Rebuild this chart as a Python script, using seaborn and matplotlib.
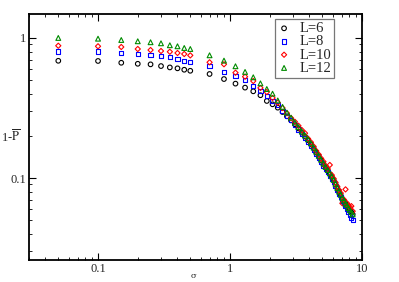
import matplotlib
matplotlib.use('Agg')
import matplotlib.pyplot as plt
import seaborn as sns

# sigma values (same grid for every L)
sigma = [0.05, 0.1, 0.15, 0.2, 0.25, 0.3, 0.35, 0.4, 0.45, 0.5,
         0.7, 0.9, 1.1, 1.3, 1.5, 1.7, 1.9, 2.1, 2.3, 2.5,
         2.7, 2.9, 3.1, 3.3, 3.5, 3.7, 3.9, 4.1, 4.3, 4.5,
         4.7, 4.9, 5.1, 5.3, 5.5, 5.7, 5.9, 6.1, 6.3, 6.5,
         6.7, 6.9, 7.1, 7.3, 7.5, 7.7, 7.9, 8.1, 8.3, 8.5]

p_L6 = [0.687, 0.685, 0.665, 0.654, 0.648, 0.630, 0.616, 0.607, 0.593, 0.583,
        0.553, 0.509, 0.472, 0.442, 0.416, 0.390, 0.355, 0.336, 0.318, 0.296,
        0.276, 0.258, 0.242, 0.226, 0.211, 0.198, 0.186, 0.174, 0.163, 0.152,
        0.143, 0.134, 0.126, 0.119, 0.113, 0.107, 0.102, 0.096, 0.090, 0.085,
        0.080, 0.075, 0.071, 0.068, 0.066, 0.063, 0.061, 0.059, 0.057, 0.055]

p_L8 = [0.800, 0.800, 0.780, 0.772, 0.751, 0.743, 0.727, 0.708, 0.689, 0.674,
        0.634, 0.572, 0.535, 0.499, 0.452, 0.420, 0.385, 0.355, 0.330, 0.300,
        0.279, 0.258, 0.238, 0.222, 0.205, 0.193, 0.181, 0.170, 0.158, 0.148,
        0.139, 0.131, 0.123, 0.116, 0.110, 0.104, 0.099, 0.094, 0.088, 0.082,
        0.077, 0.073, 0.069, 0.066, 0.063, 0.060, 0.057, 0.055, 0.052, 0.050]

p_L10 = [0.880, 0.872, 0.862, 0.834, 0.820, 0.807, 0.797, 0.781, 0.768, 0.751,
         0.670, 0.649, 0.565, 0.529, 0.493, 0.440, 0.411, 0.373, 0.345, 0.316,
         0.290, 0.268, 0.252, 0.236, 0.220, 0.209, 0.191, 0.180, 0.168, 0.156,
         0.147, 0.138, 0.131, 0.122, 0.116, 0.124, 0.105, 0.099, 0.093, 0.087,
         0.082, 0.078, 0.066, 0.070, 0.083, 0.066, 0.063, 0.062, 0.063, 0.058]

p_L12 = [1.000, 0.988, 0.967, 0.947, 0.932, 0.916, 0.887, 0.872, 0.848, 0.834,
         0.752, 0.689, 0.628, 0.572, 0.524, 0.474, 0.432, 0.400, 0.358, 0.322,
         0.293, 0.270, 0.249, 0.231, 0.215, 0.201, 0.189, 0.177, 0.165, 0.154,
         0.144, 0.135, 0.127, 0.120, 0.114, 0.108, 0.103, 0.097, 0.091, 0.085,
         0.080, 0.076, 0.072, 0.069, 0.066, 0.064, 0.061, 0.059, 0.057, 0.055]

labels = ['L=6', 'L=8', 'L=10', 'L=12']

sns.set_style('ticks')
plt.rcParams['font.family'] = ['Liberation Serif', 'DejaVu Serif']
plt.rcParams['mathtext.fontset'] = 'stix'

fig = plt.figure(figsize=(3.99, 2.82), dpi=100)
ax = fig.add_axes([0.0727, 0.078, 0.8346, 0.872])

series = [
    (p_L6, 'o', 'black', 11),
    (p_L8, 's', '#0000ff', 9),
    (p_L10, 'D', '#ff0000', 7),
    (p_L12, '^', '#008b00', 12),
]
for (vals, mk, col, size), lab in zip(series, labels):
    sns.scatterplot(x=sigma, y=vals, marker=mk, s=size, facecolor='none',
                    edgecolor=col, linewidth=0.8, label=lab, ax=ax)

ax.set_xscale('log')
ax.set_yscale('log')
ax.set_xlim(0.03, 10)
ax.set_ylim(0.026, 1.48)

ax.set_xticks([0.1, 1, 10])
ax.set_xticklabels(['0.1', '1', '10'])
ax.set_yticks([0.1, 1])
ax.set_yticklabels(['0.1', '1'])

ax.tick_params(which='both', direction='in', top=True, right=True,
               labelsize=9, pad=2, color='black')
ax.tick_params(which='major', length=5, width=0.8)
ax.tick_params(which='minor', length=2.5, width=0.6)
for sp in ax.spines.values():
    sp.set_linewidth(1.3)
    sp.set_color('black')

ax.set_xlabel('')
ax.set_ylabel('')
fig.text(0.028, 0.515, r'1-$\overline{\mathrm{P}}$', fontsize=9,
         ha='center', va='center')
fig.text(0.484, 0.022, 'σ', fontsize=6, ha='center', va='center',
         family=['DejaVu Serif'])

leg = ax.legend(loc='upper right', bbox_to_anchor=(0.916, 0.98),
                borderaxespad=0, fontsize=10.5, frameon=True, fancybox=False,
                labelspacing=0.0, handletextpad=0.6, borderpad=0.2,
                handlelength=0.9, markerscale=1.0)
leg.get_frame().set_edgecolor('#555555')
leg.get_frame().set_linewidth(0.9)

fig.savefig('out.png', dpi=100)
